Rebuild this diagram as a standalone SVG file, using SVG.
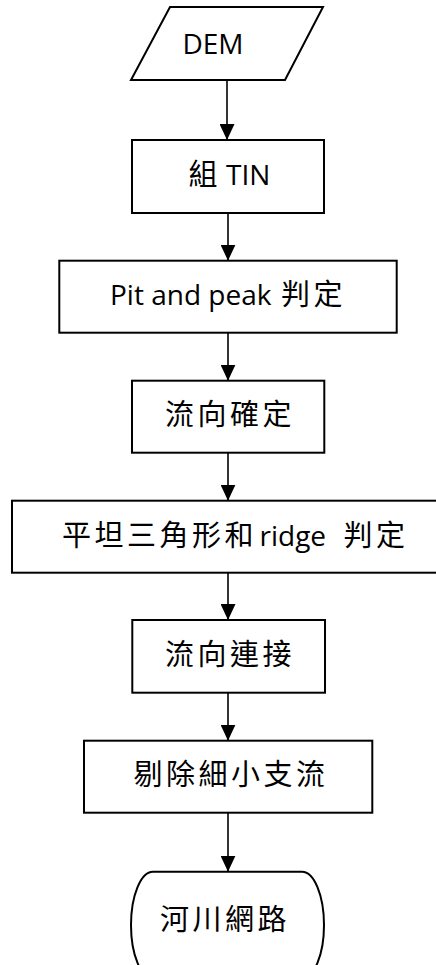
<svg xmlns="http://www.w3.org/2000/svg" width="436" height="965" viewBox="0 0 436 965">
<style>
.shape{fill:#fff;stroke:#000;stroke-width:2}
.conn{stroke:#000;stroke-width:1.6;fill:none}
.lat{font-family:"Open Sans","Liberation Sans",sans-serif;font-size:28px;fill:#000}
.cjk{font-family:"Noto Sans CJK TC","Noto Sans CJK SC",sans-serif;font-size:29px;letter-spacing:3.5px;fill:#000}
</style>
<defs>
<marker id="arr" markerUnits="userSpaceOnUse" markerWidth="16" markerHeight="15" viewBox="0 -7.5 16 15" refX="16" refY="0" orient="auto">
<path d="M0,-7.5 L16,0 L0,7.5 Z" fill="#000"/>
</marker>
</defs>
<rect width="436" height="965" fill="#fff"/>
<g id="connectors">
<line class="conn" x1="227" y1="80" x2="227" y2="140" marker-end="url(#arr)"/>
<line class="conn" x1="228" y1="213" x2="228" y2="260.7" marker-end="url(#arr)"/>
<line class="conn" x1="228" y1="332.7" x2="228" y2="380.7" marker-end="url(#arr)"/>
<line class="conn" x1="228" y1="452.7" x2="228" y2="500.7" marker-end="url(#arr)"/>
<line class="conn" x1="228" y1="572.7" x2="228" y2="620" marker-end="url(#arr)"/>
<line class="conn" x1="228" y1="692.7" x2="228" y2="740.7" marker-end="url(#arr)"/>
<line class="conn" x1="228" y1="812.7" x2="228" y2="871.7" marker-end="url(#arr)"/>
</g>
<g id="dem">
<polygon class="shape" points="170,7 323,7 285,80 131,80"/>
<text class="lat" x="213" y="54" text-anchor="middle">DEM</text>
</g>
<g id="tin">
<rect class="shape" x="132" y="140" width="192" height="73"/>
<text y="185"><tspan class="cjk" x="188.5">組</tspan><tspan class="lat" x="226">TIN</tspan></text>
</g>
<g id="pitpeak">
<rect class="shape" x="59.3" y="260.7" width="337.4" height="72"/>
<text y="305"><tspan class="lat" x="110">Pit and peak</tspan><tspan class="cjk" x="281">判定</tspan></text>
</g>
<g id="flowdir">
<rect class="shape" x="132" y="380.7" width="192.3" height="72"/>
<text class="cjk" x="165" y="425">流向確定</text>
</g>
<g id="flat">
<rect class="shape" x="12" y="500.7" width="440" height="72"/>
<text y="546"><tspan class="cjk" x="62">平坦三角形和</tspan><tspan class="lat" x="259.5">ridge</tspan><tspan class="cjk" x="343.5">判定</tspan></text>
</g>
<g id="connect">
<rect class="shape" x="132.3" y="620" width="192.7" height="72.7"/>
<text class="cjk" x="165" y="665">流向連接</text>
</g>
<g id="prune">
<rect class="shape" x="84" y="740.7" width="288.3" height="72"/>
<text class="cjk" x="133.5" y="785">剔除細小支流</text>
</g>
<g id="river">
<path class="shape" d="M153,871.7 H302 A22,53.3 0 0 1 302,978.3 H153 A22,53.3 0 0 1 153,871.7 Z"/>
<text class="cjk" x="160" y="930">河川網路</text>
</g>
</svg>
